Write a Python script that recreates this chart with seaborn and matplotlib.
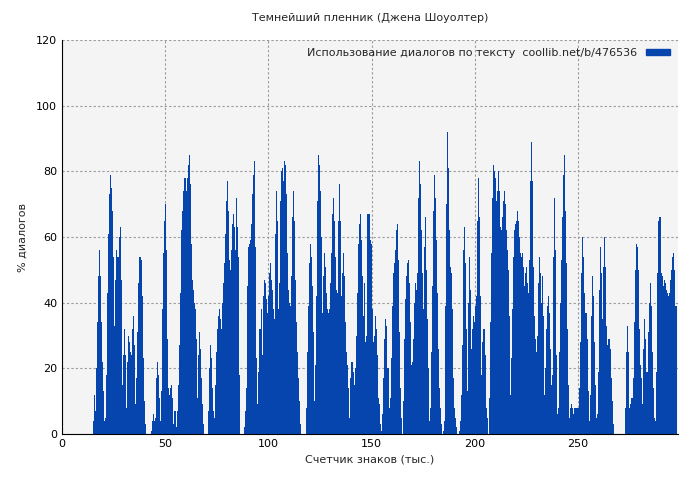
import seaborn as sns
import matplotlib.pyplot as plt
import matplotlib.patches as mpatches
import numpy as np

# Dialogue share (%) per text chunk, left to right
seg1 = [4, 12, 7, 20, 34, 48, 56, 48, 34, 22, 13, 4, 5, 18, 43, 61, 73, 79, 75, 68,
        54, 33, 47, 56, 54, 54, 60, 63, 47, 15, 24, 32, 24, 8, 22, 30, 28, 25, 24, 32,
        36, 27, 9, 17, 31, 46, 54, 54, 53, 42, 23, 10, 3, 0, 0, 0, 0, 0, 1, 4,
        6, 4, 5, 17, 22, 18, 11, 4, 13, 38, 55, 65, 70, 56, 29, 14, 12, 14, 15, 11,
        3, 7, 7, 2, 7, 15, 27, 43, 62, 68, 74, 78, 78]
seg2 = [74, 78, 82, 85, 76, 58, 47, 44, 40, 38, 29, 11, 24, 31, 26, 17, 9, 3, 0, 0,
        0, 0, 7, 20, 27, 23, 14, 7, 5, 15, 25, 32, 36, 38, 35, 32, 40, 46, 52, 61,
        71, 77, 68, 53, 50, 56, 64, 67, 63, 56, 72, 63, 54, 18, 0, 0, 0, 0, 2, 7,
        14, 45, 57, 58, 59, 64, 73, 79, 83, 57, 23, 9, 19, 32, 32, 38, 24, 42, 47, 46,
        41, 37, 42, 49, 52, 47, 44, 38, 35, 61, 74, 65, 38, 46, 71, 80, 81, 77, 83]
seg3 = [82, 73, 55, 44, 40, 39, 48, 66, 74, 65, 47, 34, 25, 17, 10, 3, 0, 0, 0, 0,
        0, 8, 25, 39, 52, 58, 54, 45, 31, 10, 21, 42, 71, 85, 82, 74, 60, 37, 48, 55,
        51, 43, 38, 37, 38, 46, 55, 67, 72, 65, 54, 44, 43, 65, 76, 65, 42, 49, 55, 48,
        34, 25, 21, 14, 5, 17, 22, 22, 19, 15, 20, 30, 43, 58, 64, 67, 59, 48, 36, 46,
        28, 30, 67, 67, 67, 59, 58, 38, 28, 30, 36, 32, 24, 11, 9, 3, 1, 6]
seg4 = [17, 29, 35, 33, 20, 20, 8, 11, 23, 39, 49, 52, 56, 62, 64, 53, 31, 14, 5, 0,
        10, 29, 41, 48, 52, 53, 46, 34, 21, 22, 29, 40, 46, 44, 49, 72, 83, 76, 62, 49,
        38, 57, 66, 50, 35, 20, 4, 8, 25, 45, 68, 79, 72, 59, 43, 26, 14, 8, 3, 0,
        1, 4, 39, 70, 92, 81, 62, 51, 49, 38, 17, 8, 5, 2, 0, 0, 1, 4, 12, 27,
        56, 63, 52, 32, 13, 40, 54, 44, 26, 32, 36, 34, 39, 42, 65, 78, 66, 42]
seg5 = [18, 28, 32, 32, 24, 8, 5, 0, 11, 34, 55, 72, 82, 80, 78, 71, 74, 80, 74, 63,
        62, 66, 71, 74, 70, 62, 56, 50, 36, 12, 23, 38, 54, 62, 64, 65, 68, 65, 60, 55,
        54, 55, 51, 45, 49, 51, 46, 43, 53, 77, 89, 77, 51, 36, 29, 25, 30, 46, 54, 49,
        40, 48, 36, 12, 20, 32, 39, 42, 37, 26, 15, 18, 54, 72, 56, 24, 6, 8, 25, 40,
        53, 66, 79, 85, 68, 52, 32, 15, 5, 8, 9, 8, 6, 8, 8, 8, 8, 8]
seg6 = [14, 28, 49, 60, 54, 43, 37, 37, 29, 13, 4, 12, 36, 48, 42, 28, 15, 5, 6, 19,
        44, 57, 49, 35, 51, 60, 51, 33, 27, 29, 29, 26, 17, 10, 3, 0, 0, 0, 0, 0,
        0, 0, 0, 0, 0, 0, 8, 25, 33, 25, 8, 9, 11, 11, 17, 34, 50, 58, 57, 50,
        32, 21, 17, 9, 26, 35, 29, 19, 19, 31, 40, 46, 39, 25, 14, 5, 4, 19, 49, 65,
        66, 66, 49, 48, 45, 47, 46, 44, 43, 42, 43, 47, 50, 54, 55, 50, 39, 39]
dialogue = seg1 + seg2 + seg3 + seg4 + seg5 + seg6

first_chunk = 15.0      # thousand characters
chunk_size = 0.4845     # thousand characters per bar
centers = first_chunk + chunk_size * (np.arange(len(dialogue)) + 0.5)
bar_color = '#0645ad'

sns.set_style("whitegrid")
plt.rcParams['font.family'] = ['DejaVu Sans']

fig = plt.figure(figsize=(7, 4.8), dpi=100, facecolor='white')
ax = fig.add_axes([62 / 700, 46 / 480, 616 / 700, 394 / 480])
ax.set_facecolor('#f4f4f4')

sns.histplot(x=centers, weights=dialogue, bins=len(dialogue),
             binrange=(first_chunk, first_chunk + chunk_size * len(dialogue)),
             color=bar_color, alpha=1, linewidth=0, ax=ax)

ax.set_xlim(0, 298.5)
ax.set_ylim(0, 120)
ax.set_xticks(range(0, 251, 50))
ax.set_yticks(range(0, 121, 20))
ax.grid(True, color='#999999', linestyle=(0, (2, 2)), linewidth=0.8)
ax.set_axisbelow(True)
for s in ax.spines.values():
    s.set_visible(False)
ax.spines['left'].set_visible(True)
ax.spines['bottom'].set_visible(True)
ax.spines['left'].set_color('black')
ax.spines['bottom'].set_color('black')
ax.tick_params(labelsize=8, length=3, direction='in', colors='black')

ax.set_title('Темнейший пленник (Джена Шоуолтер)', fontsize=8, pad=14)
ax.set_xlabel('Счетчик знаков (тыс.)', fontsize=8, labelpad=4)
ax.set_ylabel('% диалогов', fontsize=8, labelpad=6)

handle = mpatches.Patch(color=bar_color)
ax.legend([handle], ['Использование диалогов по тексту  coollib.net/b/476536'],
          loc='upper right', fontsize=8, frameon=False, markerfirst=False,
          handlelength=2.2, handleheight=0.5, borderaxespad=0.3)

fig.savefig('out.png', dpi=100, facecolor='white')
